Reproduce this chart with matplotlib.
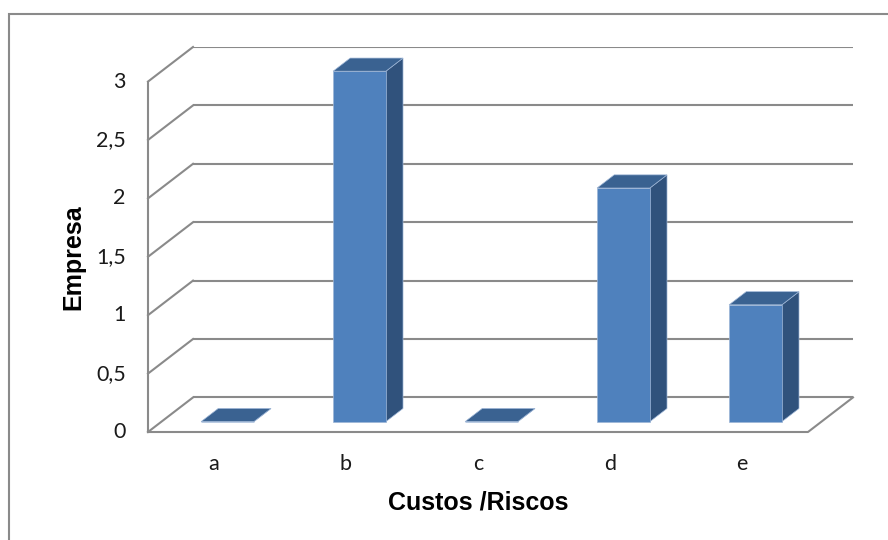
import matplotlib
matplotlib.use('Agg')
import matplotlib.pyplot as plt
from matplotlib.patches import Polygon, Rectangle
from matplotlib.transforms import offset_copy

categories = ['a', 'b', 'c', 'd', 'e']
values = [0, 3, 0, 2, 1]
y_ticks = [0, 0.5, 1, 1.5, 2, 2.5, 3]
y_tick_labels = ['0', '0,5', '1', '1,5', '2', '2,5', '3']

# fake 3d: depth shift of the back wall in data units
DX, DY = 0.341, 0.296
D0, D1 = 0.30, 0.68   # bar front / back depth
W = 0.2               # half bar width
X0, X1 = -0.5, len(categories) - 0.5
YMAX = 3

grid_c = '#8a8a8a'
front_c, side_c, top_c = '#4F81BD', '#30527C', '#3A6291'


def P(x, y, d):
    return (x + d * DX, y + d * DY)


fig = plt.figure(figsize=(8.88, 5.4), dpi=100)
W_PX, H_PX = 888, 540
# axes spans front plane plus depth shift
ax = fig.add_axes([148 / W_PX, 108 / H_PX, 705 / W_PX, 385 / H_PX])
ax.set_xlim(X0, X1 + DX)
ax.set_ylim(0, YMAX + DY)
ax.axis('off')

lw = 1.5
# back wall gridlines
for v in y_ticks:
    xs, ys = zip(P(X0, v, 1), P(X1, v, 1))
    ax.plot(xs, ys, color=grid_c, lw=lw, solid_capstyle='butt', zorder=1)
    # left wall diagonals
    xs, ys = zip(P(X0, v, 0), P(X0, v, 1))
    ax.plot(xs, ys, color=grid_c, lw=lw, zorder=1, clip_on=False)
# left wall front vertical
xs, ys = zip(P(X0, 0, 0), P(X0, YMAX, 0))
ax.plot(xs, ys, color=grid_c, lw=lw, zorder=1, clip_on=False)
# floor front and right edges
xs, ys = zip(P(X0, 0, 0), P(X1, 0, 0), P(X1, 0, 1))
ax.plot(xs, ys, color=grid_c, lw=lw, zorder=1, clip_on=False)

# bars
for i, v in enumerate(values):
    front = [P(i - W, 0, D0), P(i + W, 0, D0), P(i + W, v, D0), P(i - W, v, D0)]
    side = [P(i + W, 0, D0), P(i + W, 0, D1), P(i + W, v, D1), P(i + W, v, D0)]
    top = [P(i - W, v, D0), P(i + W, v, D0), P(i + W, v, D1), P(i - W, v, D1)]
    for pts, c in [(side, side_c), (front, front_c), (top, top_c)]:
        ax.add_patch(Polygon(pts, closed=True, facecolor=c, edgecolor='#9DB5D6',
                             lw=0.5, zorder=3, clip_on=False))

tick_font = dict(family='Lato', size=15.5, color='#1a1a1a')
tr = offset_copy(ax.transData, fig=fig, x=-16, y=0, units='points')
for v, lab in zip(y_ticks, y_tick_labels):
    ax.text(X0, v, lab, transform=tr, ha='right', va='center', **tick_font)

tr = offset_copy(ax.transData, fig=fig, x=0, y=-27.4, units='points')
for i, lab in enumerate(categories):
    ax.text(i, 0, lab, transform=tr, ha='center', va='baseline', **tick_font)

title_font = dict(family='Liberation Sans', size=18, weight='bold', color='black')
tr = offset_copy(ax.transData, fig=fig, x=0, y=-56, units='points')
ax.text(2, 0, 'Custos /Riscos', transform=tr, ha='center', va='baseline', **title_font)
tr = offset_copy(ax.transData, fig=fig, x=-54, y=0, units='points')
ax.text(X0, 1.5, 'Empresa', transform=tr, rotation=90, ha='center', va='center', **title_font)

# chart outer border
fig.patches.append(Rectangle((9 / W_PX, -0.05), 1.2, 1 - 13.5 / H_PX + 0.05,
                             transform=fig.transFigure, fill=False,
                             edgecolor=grid_c, lw=1.5))

fig.savefig('out.png', dpi=100)
